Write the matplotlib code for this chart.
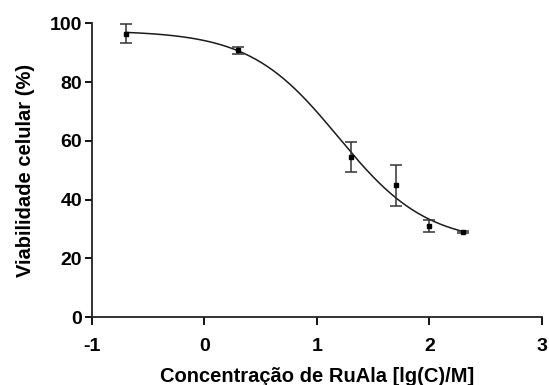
import matplotlib
matplotlib.use("Agg")
import matplotlib.pyplot as plt
import numpy as np

# log concentration vs viability
log_conc = [-0.7, 0.3, 1.3, 1.7, 2.0, 2.3]
viab = [96.5, 90.8, 54.5, 44.8, 31.0, 29.0]
err = [3.3, 1.1, 5.0, 7.0, 2.0, 0.3]

# 4-parameter logistic fit (top, bottom, logIC50, hill)
top, bottom, log_ic50, hill = 97.5, 25.0, 1.19, 1.1

plt.rcParams['font.family'] = ['Liberation Sans', 'DejaVu Sans']
plt.rcParams['font.weight'] = 'bold'
plt.rcParams['axes.unicode_minus'] = False

fig = plt.figure(figsize=(5.49, 3.85), dpi=100)
ax = fig.add_axes([0.1676, 0.1766, 0.8194, 0.7629])

xs = np.linspace(min(log_conc), max(log_conc), 300)
ys = bottom + (top - bottom) / (1 + 10 ** ((xs - log_ic50) * hill))
ax.plot(xs, ys, color='#1a1a1a', lw=1.1)
ax.errorbar(log_conc, viab, yerr=err, fmt='s', color='black', ms=3.5,
            ecolor='#333333', elinewidth=1.1, capsize=4, capthick=1.1)

ax.set_xlim(-1, 3)
ax.set_ylim(0, 100)
ax.set_xticks([-1, 0, 1, 2, 3])
ax.set_yticks([0, 20, 40, 60, 80, 100])
for s in ['top', 'right']:
    ax.spines[s].set_visible(False)
for s in ['left', 'bottom']:
    ax.spines[s].set_linewidth(1.3)
    ax.spines[s].set_color('#222222')
ax.tick_params(direction='out', width=1.3, labelsize=14)
ax.tick_params(axis='x', length=6, pad=9)
ax.tick_params(axis='y', length=5, pad=2)
for lab in ax.get_xticklabels() + ax.get_yticklabels():
    lab.set_fontweight('bold')

ax.set_xlabel('Concentração de RuAla [lg(C)/M]', fontsize=14.5, fontweight='bold', labelpad=9)
ax.set_ylabel('Viabilidade celular (%)', fontsize=14.5, fontweight='bold', labelpad=11)

fig.savefig('out.png', dpi=100)
